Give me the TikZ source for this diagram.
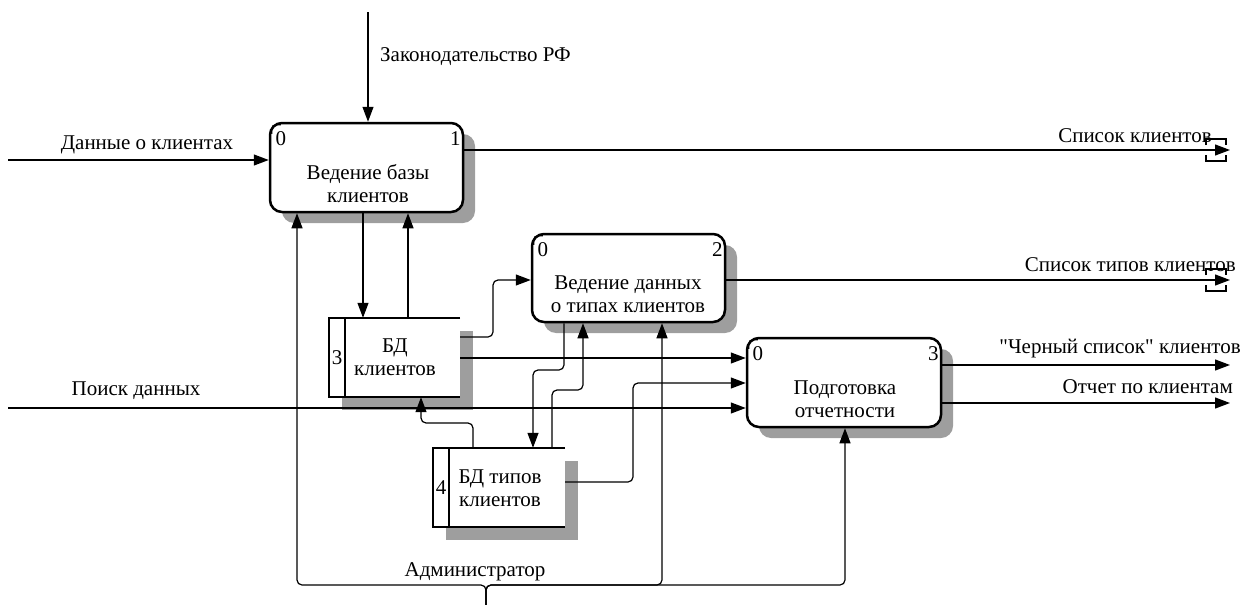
\documentclass[tikz,border=0pt]{standalone}
\usepackage{fontspec}
\setmainfont{Liberation Serif}[Ligatures=TeXOff]
\usetikzlibrary{arrows.meta,calc,shadows}
\begin{document}
\begin{tikzpicture}[x=1pt,y=-1pt,
  conn/.style={line width=1.2pt, rounded corners=5pt},
  arr/.style={conn, -{Triangle[length=15pt,width=11pt]}},
  func/.style={draw, line width=2.5pt, rounded corners=12pt, fill=white, inner sep=0pt,
    drop shadow={shadow xshift=12pt, shadow yshift=-11pt, fill=black!38, opacity=1}},
  store/.style={fill=white, inner sep=0pt,
    drop shadow={shadow xshift=13pt, shadow yshift=-13pt, fill=black!38, opacity=1}},
  sline/.style={line width=2.5pt},
  tun/.style={line width=2pt},
  cornermark/.style={line width=1.2pt},
  txt/.style={font=\fontsize{21}{23}\selectfont, inner sep=0pt, align=center},
]
\useasboundingbox (0,0) rectangle (1243,605);

% guide coordinates
\foreach \v in {297,408,421,473,493,533,552,564,583,633,662,845}{\coordinate (x\v) at (\v,0);}
\foreach \v in {280,337,358,370,383,390,423,482,585}{\coordinate (y\v) at (0,\v);}

% function boxes
\node[func, minimum width=193pt, minimum height=89pt] (b1) at (366.5,167.5) {};
\node[func, minimum width=193pt, minimum height=88pt] (b2) at (628.5,278) {};
\node[func, minimum width=194pt, minimum height=89pt] (b3) at (844,382.5) {};

\foreach \b in {b1,b2,b3}{
  \draw[cornermark] ($(\b.north west)+(3,12)$) .. controls ($(\b.north west)+(3,3)$) .. ($(\b.north west)+(12,3)$);
}

\node[txt] (b1t) at (368,184) {Ведение базы\\клиентов};
\node[txt] (b1a) at ($(b1.north west)+(12,17)$) {0};
\node[txt] (b1b) at ($(b1.north east)+(-9,17)$) {1};
\node[txt] (b2t) at (628,294) {Ведение данных\\о типах клиентов};
\node[txt] (b2a) at ($(b2.north west)+(12,17)$) {0};
\node[txt] (b2b) at ($(b2.north east)+(-9,17)$) {2};
\node[txt] (b3t) at (845,399) {Подготовка\\отчетности};
\node[txt] (b3a) at ($(b3.north west)+(12,17)$) {0};
\node[txt] (b3b) at ($(b3.north east)+(-9,17)$) {3};

% data stores
\node[store, minimum width=131pt, minimum height=79pt] (s3) at (394.5,357.5) {};
\draw[sline] (s3.north east) -- (s3.north west) -- (s3.south west) -- (s3.south east);
\draw[sline] ($(s3.north west)+(16,0)$) -- ($(s3.south west)+(16,0)$);
\node[txt] (s3n) at (337,357.5) {3};
\node[txt] (s3t) at (395,357.5) {БД\\клиентов};

\node[store, minimum width=132pt, minimum height=79pt] (s4) at (499,487.5) {};
\draw[sline] (s4.north east) -- (s4.north west) -- (s4.south west) -- (s4.south east);
\draw[sline] ($(s4.north west)+(16,0)$) -- ($(s4.south west)+(16,0)$);
\node[txt] (s4n) at (441,488) {4};
\node[txt] (s4t) at (500,488) {БД типов\\клиентов};

% boundary coordinates
\coordinate (ctl) at (368,12);
\coordinate (in1) at (8,160);
\coordinate (in3) at (8,408);
\coordinate (out1) at (1230,150);
\coordinate (out2) at (1230,280);
\coordinate (out3a) at (1230,365);
\coordinate (out3b) at (1230,403);
\coordinate (adm) at (486,605);

% external arrows
\draw[arr] (ctl) -- (ctl |- b1.north);
\draw[arr] (in1) -- (in1 -| b1.west);
\draw[arr] (in3) -- (in3 -| b3.west);
\draw[arr] (out1 -| b1.east) -- (out1);
\draw[arr] (out2 -| b2.east) -- (out2);
\draw[arr] (out3a -| b3.east) -- (out3a);
\draw[arr] (out3b -| b3.east) -- (out3b);

% tunnels
\foreach \o in {out1,out2}{
  \draw[tun] ($(\o)+(-24,-5)$) -- ($(\o)+(-24,-11)$) -- ($(\o)+(-4,-11)$) -- ($(\o)+(-4,-5)$);
  \draw[tun] ($(\o)+(-24,5)$) -- ($(\o)+(-24,11)$) -- ($(\o)+(-4,11)$) -- ($(\o)+(-4,5)$);
}

% internal arrows
\coordinate (p1) at ($(b1.south)+(-3.5,0)$);
\draw[arr] (p1) -- (p1 |- s3.north);
\draw[arr] (x408 |- s3.north) -- (x408 |- b1.south);
\draw[arr] (s3.east |- y337) -- (x493 |- y337) -- (x493 |- y280) -- (b2.west |- y280);
\draw[arr] (s3.east |- y358) -- (b3.west |- y358);
\draw[arr] (s4.east |- y482) -- (x633 |- y482) -- (x633 |- y383) -- (b3.west |- y383);
\draw[arr] (x473 |- s4.north) -- (x473 |- y423) -- (x421 |- y423) -- (x421 |- s3.south);
\draw[arr] (x564 |- b2.south) -- (x564 |- y370) -- (x533 |- y370) -- (x533 |- s4.north);
\draw[arr] (x552 |- s4.north) -- (x552 |- y390) -- (x583 |- y390) -- (x583 |- b2.south);

% mechanism (Администратор)
\draw[arr] (adm) -- (adm |- y585) -- (x297 |- y585) -- (x297 |- b1.south);
\draw[arr] (adm) -- (adm |- y585) -- (x662 |- y585) -- (x662 |- b2.south);
\draw[arr] (adm) -- (adm |- y585) -- (x845 |- y585) -- (x845 |- b3.south);

% labels
\node[txt, anchor=west] (lctl) at (380,57) {Законодательство РФ};
\node[txt] (lin1) at (147,145) {Данные о клиентах};
\node[txt] (lin3) at (136,391) {Поиск данных};
\node[txt, anchor=east] (lout1) at (1212,136) {Список клиентов};
\node[txt, anchor=east] (lout2) at (1236,265) {Список типов клиентов};
\node[txt, anchor=east] (lout3a) at (1241,349) {"Черный список" клиентов};
\node[txt, anchor=east] (lout3b) at (1233,387) {Отчет по клиентам};
\node[txt] (ladm) at (475,572) {Администратор};
\end{tikzpicture}
\end{document}
